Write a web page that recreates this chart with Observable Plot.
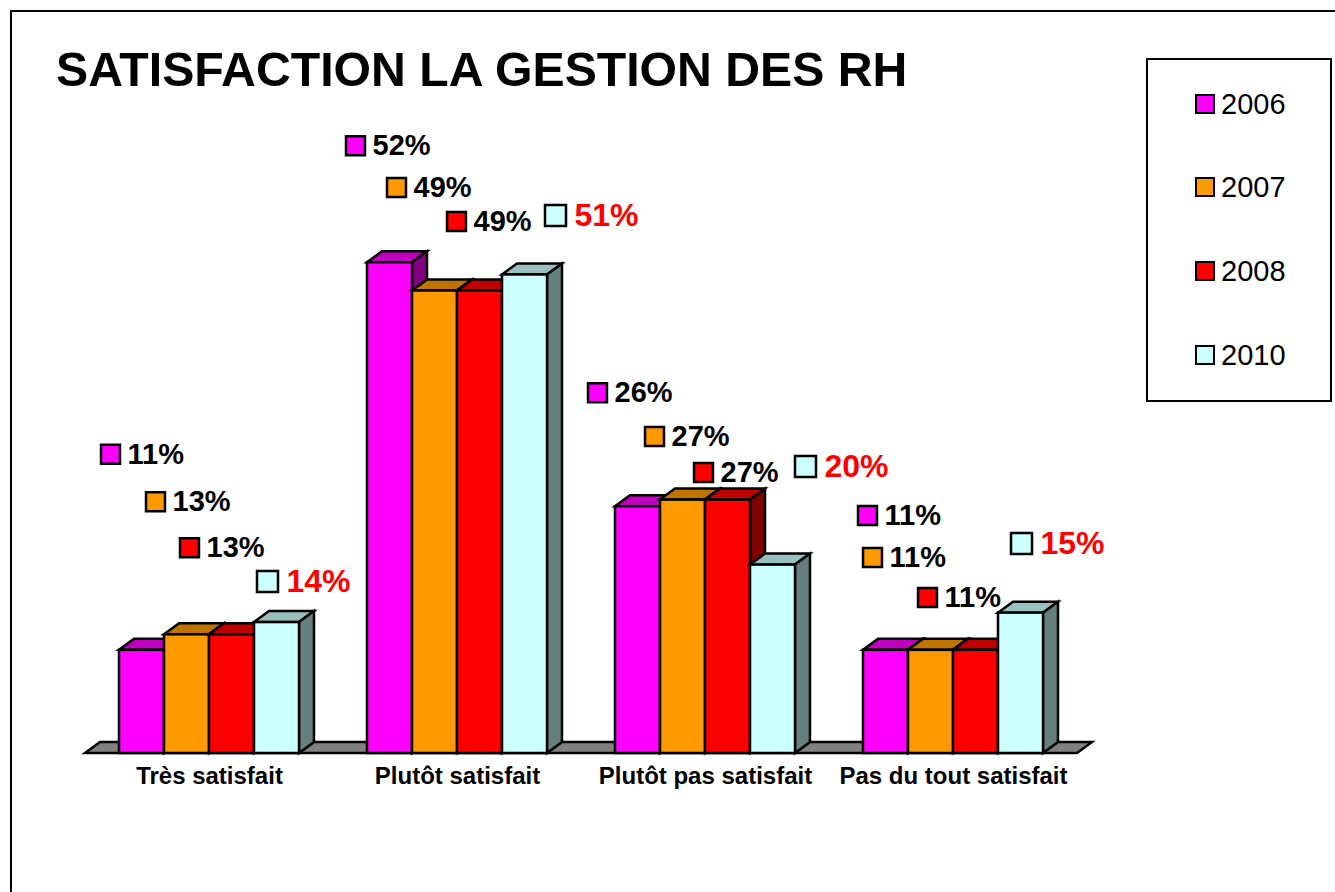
<!DOCTYPE html>
<html lang="fr">
<head>
<meta charset="utf-8">
<script src="https://cdn.jsdelivr.net/npm/d3@7"></script>
<script src="https://cdn.jsdelivr.net/npm/@observablehq/plot@0.6"></script>
<style>
  html, body { margin: 0; padding: 0; background: #fff; overflow: hidden; }
  body { position: relative; width: 1335px; height: 892px; font-family: "Liberation Sans", Arial, sans-serif; }
  #chart { position: absolute; left: 0; top: 0; }
  #chart svg { display: block; }
  #frame { position: absolute; left: 10px; top: 10px; width: 1400px; height: 1000px; border: 2px solid #000; box-sizing: border-box; pointer-events: none; }
  #title { position: absolute; left: 56px; top: 39px; margin: 0; font-size: 48.2px; line-height: 60px; font-weight: bold; color: #000; white-space: nowrap; }
  #legend { position: absolute; left: 1146px; top: 58px; width: 186px; height: 344px; box-sizing: border-box; border: 2px solid #000; background: #fff; }
  .item { position: absolute; left: 47px; height: 34px; display: flex; align-items: center; font-size: 29px; line-height: 34px; color: #000; }
  .key { width: 16px; height: 16px; border: 2px solid #000; margin-right: 6px; flex: none; }
</style>
</head>
<body>
<div id="frame"></div>
<div id="chart"></div>
<h1 id="title">SATISFACTION LA GESTION DES RH</h1>
<div id="legend"></div>
<script>
const categories = ["Très satisfait", "Plutôt satisfait", "Plutôt pas satisfait", "Pas du tout satisfait"];
const years = ["2006", "2007", "2008", "2010"];
const values2006 = [10.95, 52.1, 26.2, 10.95];
const values2007 = [12.6, 49.1, 26.9, 10.95];
const values2008 = [12.6, 49.1, 26.9, 10.95];
const values2010 = [13.9, 50.8, 20.0, 14.9];
const seriesValues = [values2006, values2007, values2008, values2010];

const frontColors = ["#FF00FF", "#FF9900", "#FF0000", "#CCFFFF"];
const topColors = ["#BF00BF", "#BF7300", "#BF0000", "#99BFBF"];
const sideColors = ["#800080", "#804D00", "#800000", "#668080"];

// Hand-placed data labels: pixel offset of each swatch from the top-centre of its bar.
const labelNudges = [
  [[-31.5, -196], [-34.5, -117], [-40.5, -114], [-18.5, -134.8]],
  [[-31.5, -133], [-38.5, -103.5], [-28.5, -63.6], [-58.5, -92.8]],
  [[-42.5, -87], [-23.5, -69.5], [-24.5, -27.6], [-48.5, -52.8]],
  [[-9.5, -41], [30.5, -59.5], [32.5, -98.6], [0.5, -69.6]]
];

const rows = years.flatMap((year, s) =>
  categories.map((category, c) => ({category, year, value: seriesValues[s][c], s, c}))
);

const depthX = 15, depthY = 11, edge = 2.5;
const svgNS = "http://www.w3.org/2000/svg";

function faces3d(index, scales, values, dimensions, context, next) {
  const g = next(index, scales, values, dimensions, context);
  const rects = Array.from(g.querySelectorAll("rect"));
  rects.forEach((rect, i) => {
    const d = rows[index[i]];
    const x = +rect.getAttribute("x"), y = +rect.getAttribute("y");
    const w = +rect.getAttribute("width"), h = +rect.getAttribute("height");
    const poly = (pts, fill) => {
      const p = document.createElementNS(svgNS, "polygon");
      p.setAttribute("points", pts.map(q => q.join(",")).join(" "));
      p.setAttribute("fill", fill);
      rect.parentNode.insertBefore(p, rect);
    };
    poly([[x, y], [x + w, y], [x + w + depthX, y - depthY], [x + depthX, y - depthY]], topColors[d.s]);
    poly([[x + w, y], [x + w + depthX, y - depthY], [x + w + depthX, y + h - depthY], [x + w, y + h]], sideColors[d.s]);
  });
  return g;
}

// The floor is one continuous slab: it is drawn once, from the first facet, across all the bands.
function floor(index, {y}, channels, dimensions) {
  if (!index.length) return null;
  const band = dimensions.width - dimensions.marginLeft - dimensions.marginRight;
  const y0 = y(0), l = dimensions.marginLeft, r = l + band * categories.length;
  const p = document.createElementNS(svgNS, "polygon");
  p.setAttribute("points", [[l, y0], [r, y0], [r + depthX, y0 - depthY], [l + depthX, y0 - depthY]].map(q => q.join(",")).join(" "));
  p.setAttribute("fill", "#808080");
  p.setAttribute("stroke", "#000");
  p.setAttribute("stroke-width", edge);
  const g = document.createElementNS(svgNS, "g");
  g.appendChild(p);
  return g;
}

const labelMarks = rows.flatMap(d => {
  const [dx, dy] = labelNudges[d.s][d.c];
  const emphasised = d.s === 3;
  return [
    Plot.dot([d], {fx: "category", x: "year", y: "value", dx, dy, symbol: "square", r: emphasised ? 11.85 : 10.7,
      fill: frontColors[d.s], stroke: "#000", strokeWidth: edge}),
    Plot.text([d], {fx: "category", x: "year", y: "value", dx: dx + (emphasised ? 19 : 17), dy, text: v => `${Math.round(v.value)}%`,
      textAnchor: "start", lineAnchor: "middle", fontWeight: "bold", fontSize: emphasised ? 32 : 29,
      fill: emphasised ? "#FF0000" : "#000"})
  ];
});

const chart = Plot.plot({
  width: 1335,
  height: 892,
  marginLeft: 85,
  marginRight: 258,
  marginTop: 0,
  marginBottom: 139,
  style: {background: "transparent", fontFamily: "'Liberation Sans', Arial, sans-serif", overflow: "visible"},
  fx: {domain: categories, padding: 0, round: false, label: null},
  x: {domain: years, paddingInner: 0, paddingOuter: 0.7556, round: false, axis: null, label: null},
  y: {domain: [0, 60], range: [753, 187.8], axis: null, label: null},
  color: {domain: years, range: frontColors},
  marks: [
    Plot.ruleY([categories[0]], {fx: d => d, y: () => 0, render: floor}),
    Plot.axisFx({anchor: "bottom", tickSize: 0, tickPadding: 13, label: null, fontSize: 24, fontWeight: "bold", fill: "#000"}),
    Plot.barY(rows, {fx: "category", x: "year", y: "value", fill: "year", stroke: "#000", strokeWidth: edge, render: faces3d}),
    ...labelMarks
  ]
});
document.getElementById("chart").appendChild(chart);

const legend = document.getElementById("legend");
const legendTops = [27, 110, 194, 278];
years.forEach((year, i) => {
  const item = document.createElement("div");
  item.className = "item";
  item.style.top = legendTops[i] + "px";
  const key = document.createElement("span");
  key.className = "key";
  key.style.background = frontColors[i];
  item.appendChild(key);
  item.appendChild(document.createTextNode(year));
  legend.appendChild(item);
});
</script>
</body>
</html>
